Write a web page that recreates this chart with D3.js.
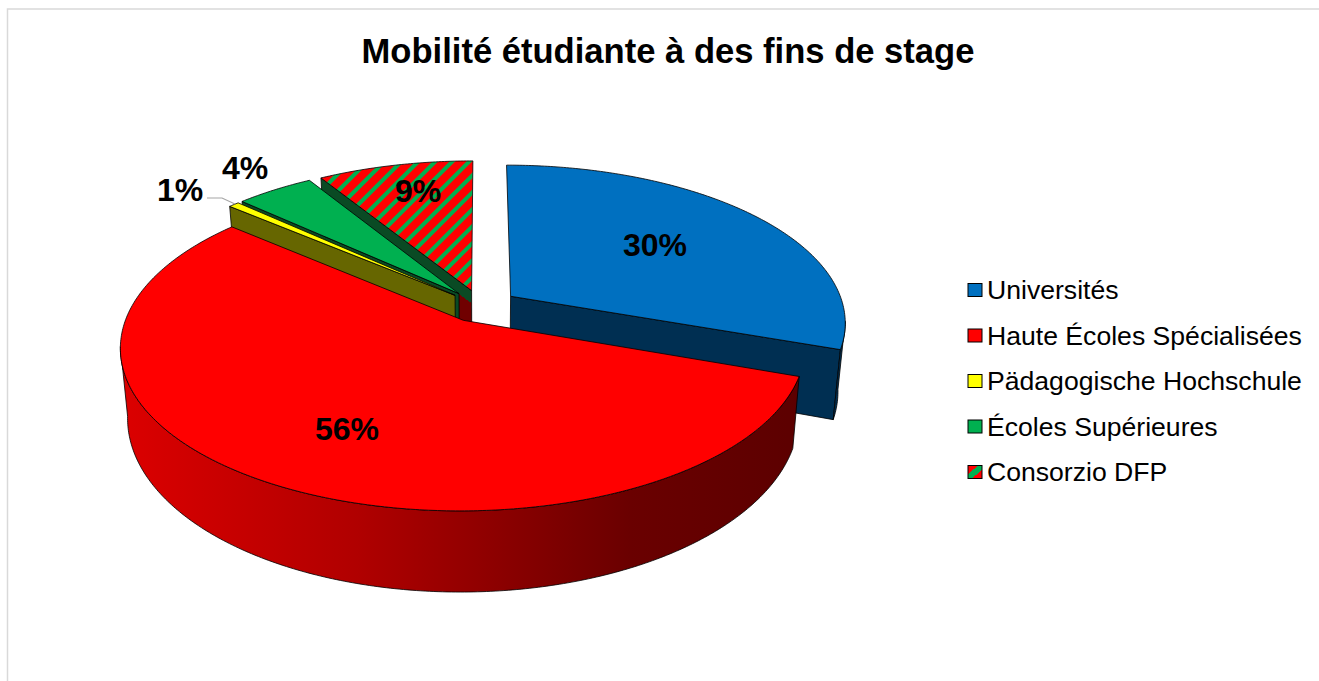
<!DOCTYPE html>
<html>
<head>
<meta charset="utf-8">
<script src="https://cdnjs.cloudflare.com/ajax/libs/d3/7.8.5/d3.min.js"></script>
<style>
html, body { margin: 0; padding: 0; background: #fff; }
text { font-family: "Liberation Sans", Arial, sans-serif; fill: #000; }
</style>
</head>
<body>
<svg id="chart" width="1319" height="681"></svg>
<script>
var categories = ["Universités", "Haute Écoles Spécialisées", "Pädagogische Hochschule", "Écoles Supérieures", "Consorzio DFP"]
var shares = [30.4, 55.8, 0.6, 4.4, 8.8]
var topColors = ["#0070c0", "#ff0000", "#ffff00", "#00b050", "url(#hatch)"]
var wallColors = ["#002f52", "#800000", "#666600", "#0a4a24", "url(#dfpWall)"]
var explodes = [0.11, 0.105, 0.105, 0.105, 0.105]
var chartTitle = "Mobilité étudiante à des fins de stage"

// 3d view of the pie
var view = { cx: 481, cy: 306, rx: 333, ry: 155, k: 0.16, depth: 67, shrink: 0.98 }

var svg = d3.select("#chart")
var defs = svg.append("defs")

function project(u, v) {
    var w = 1 + view.k * v
    return [view.cx + view.rx * u / w, view.cy - view.ry * v / w]
}
function lower(p, u, v) {
    var w = 1 + view.k * v
    return [view.cx + (p[0] - view.cx) * view.shrink, p[1] + view.depth / w]
}
function diskPoint(a, r, s) {
    return [s.ox + r * Math.sin(a), s.oy + r * Math.cos(a)]
}

var hatch = defs.append("pattern").attr("id", "hatch")
    .attr("patternUnits", "userSpaceOnUse").attr("width", 12).attr("height", 12)
    .attr("patternTransform", "rotate(45)")
hatch.append("rect").attr("width", 12).attr("height", 12).attr("fill", "#ff0000")
hatch.append("rect").attr("width", 4).attr("height", 12).attr("fill", "#00b050")

var rimGrad = defs.append("linearGradient").attr("id", "rimRed")
    .attr("gradientUnits", "userSpaceOnUse").attr("x1", 120).attr("x2", 800).attr("y1", 0).attr("y2", 0)
rimGrad.append("stop").attr("offset", 0).attr("stop-color", "#dc0000")
rimGrad.append("stop").attr("offset", 0.35).attr("stop-color", "#b00000")
rimGrad.append("stop").attr("offset", 0.75).attr("stop-color", "#6a0000")
rimGrad.append("stop").attr("offset", 1).attr("stop-color", "#5c0000")

var legendSwatch = defs.append("linearGradient").attr("id", "swatchDfp")
    .attr("x1", 0).attr("y1", 0).attr("x2", 1).attr("y2", 1)
legendSwatch.append("stop").attr("offset", 0.35).attr("stop-color", "#ff0000")
legendSwatch.append("stop").attr("offset", 0.35).attr("stop-color", "#00b050")
legendSwatch.append("stop").attr("offset", 0.65).attr("stop-color", "#00b050")
legendSwatch.append("stop").attr("offset", 0.65).attr("stop-color", "#ff0000")

// frame and title
svg.append("path").attr("d", "M7.5,681V9H1319").attr("fill", "none").attr("stroke", "#d9d9d9").attr("stroke-width", 1.5)
svg.append("text").attr("x", 668).attr("y", 63).attr("text-anchor", "middle")
    .attr("font-size", 34.6).attr("font-weight", "bold").text(chartTitle)

var pie = d3.pie().sort(null).startAngle(0).endAngle(2 * Math.PI)
var slices = pie(shares).map(function (d, i) {
    var mid = (d.startAngle + d.endAngle) / 2
    return { i: i, a0: d.startAngle, a1: d.endAngle, ox: explodes[i] * Math.sin(mid), oy: explodes[i] * Math.cos(mid) }
})

var line = d3.line()
var stroke = { stroke: "#000", width: 0.8 }

function topPoint(s, a, r) { var q = diskPoint(a, r, s); return project(q[0], q[1]) }
function basePoint(s, a, r) { var q = diskPoint(a, r, s); return lower(project(q[0], q[1]), q[0], q[1]) }
function wallPath(s, a) {
    return line([topPoint(s, a, 0), topPoint(s, a, 1), basePoint(s, a, 1), basePoint(s, a, 0)]) + "Z"
}
function sampleAngles(a0, a1) {
    var n = Math.max(2, Math.ceil((a1 - a0) * 90))
    return d3.range(n + 1).map(function (j) { return a0 + (a1 - a0) * j / n })
}

// dfp wall shows dark green then dark red across its width
var dfp = slices[4]
var wa = topPoint(dfp, dfp.a0, 0), wb = topPoint(dfp, dfp.a0, 1)
var wlen = Math.hypot(wb[0] - wa[0], wb[1] - wa[1])
var nx = -(wb[1] - wa[1]) / wlen, ny = (wb[0] - wa[0]) / wlen
if (ny < 0) { nx = -nx; ny = -ny }
var dfpGrad = defs.append("linearGradient").attr("id", "dfpWall").attr("gradientUnits", "userSpaceOnUse")
    .attr("x1", wa[0]).attr("y1", wa[1]).attr("x2", wa[0] + nx * 60).attr("y2", wa[1] + ny * 60)
dfpGrad.append("stop").attr("offset", 0.17).attr("stop-color", "#0a4a24")
dfpGrad.append("stop").attr("offset", 0.17).attr("stop-color", "#700000")

// rim turns away from the viewer at the silhouette of the disk
var rimStart = Math.acos(-view.k), rimEnd = 2 * Math.PI - rimStart

// painter order, back to front
var order = [4, 3, 2, 0, 1]
order.forEach(function (idx) {
    var s = slices[idx]
    var g = svg.append("g").attr("class", "slice")
    var wallFill = wallColors[idx]

    if (Math.sin(s.a0) < 0) {
        g.append("path").attr("d", wallPath(s, s.a0)).attr("fill", wallFill).attr("stroke", stroke.stroke).attr("stroke-width", stroke.width)
    }
    if (Math.sin(s.a1) > 0) {
        g.append("path").attr("d", wallPath(s, s.a1)).attr("fill", wallFill).attr("stroke", stroke.stroke).attr("stroke-width", stroke.width)
    }
    // outer rim, only the part looking at the viewer
    var r0 = Math.max(s.a0, rimStart), r1 = Math.min(s.a1, rimEnd)
    if (r1 > r0) {
        var ang = sampleAngles(r0, r1)
        var pts = ang.map(function (a) { return topPoint(s, a, 1) })
            .concat(ang.slice().reverse().map(function (a) { return basePoint(s, a, 1) }))
        g.append("path").attr("d", line(pts) + "Z").attr("fill", idx == 1 ? "url(#rimRed)" : wallFill)
            .attr("stroke", stroke.stroke).attr("stroke-width", stroke.width)
    }
    var face = [topPoint(s, s.a0, 0)].concat(sampleAngles(s.a0, s.a1).map(function (a) { return topPoint(s, a, 1) }))
    g.append("path").attr("d", line(face) + "Z").attr("fill", topColors[idx])
        .attr("stroke", stroke.stroke).attr("stroke-width", stroke.width)
})

// data labels
var labelSpots = [[655, 256], [347, 440], [180, 201], [245, 179], [418, 202]]
shares.forEach(function (v, i) {
    svg.append("text").attr("x", labelSpots[i][0]).attr("y", labelSpots[i][1]).attr("text-anchor", "middle")
        .attr("font-size", 32).attr("font-weight", "bold").text(Math.round(v) + "%")
})
svg.append("path").attr("d", "M207,198H222L235,204").attr("fill", "none").attr("stroke", "#a6a6a6").attr("stroke-width", 1.2)

// legend
var legendY = d3.scalePoint().domain(categories).range([290, 472])
var swatchFills = ["#0070c0", "#ff0000", "#ffff00", "#00b050", "url(#swatchDfp)"]
categories.forEach(function (c, i) {
    var y = legendY(c)
    svg.append("rect").attr("x", 968).attr("y", y - 6.5).attr("width", 14).attr("height", 13)
        .attr("fill", swatchFills[i]).attr("stroke", "#000").attr("stroke-width", 1)
    svg.append("text").attr("x", 987).attr("y", y + 9).attr("font-size", 26.6).text(c)
})
</script>
</body>
</html>
